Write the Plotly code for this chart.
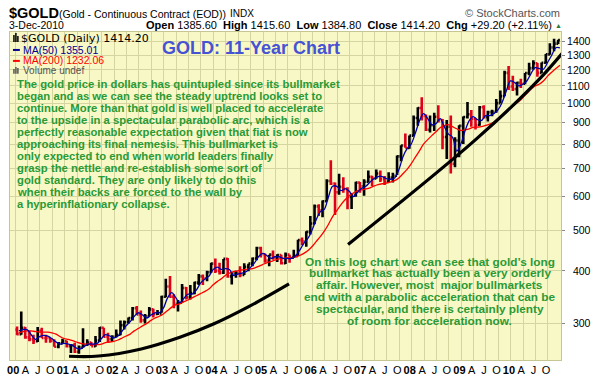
import plotly.graph_objects as go

# ---------------- data (monthly) ----------------
years = list(range(2000, 2011))
months = [f"{y}-{m:02d}-15" for y in years for m in range(1, 13)]
month_ends = [f"{y}-{m:02d}-28" for y in years for m in range(1, 13)]

opens = [290,283,293,278,275,272,288,277,277,273,264,269,
         272,265,266,257,263,267,270,265,273,293,279,275,
         279,282,297,302,309,326,315,305,312,324,316,317,
         347,367,347,334,336,364,346,354,375,388,384,397,
         416,400,396,427,388,394,395,391,409,416,428,453,
         438,423,437,429,436,417,437,430,434,473,470,495,
         518,569,557,585,654,645,615,633,626,599,604,648,
         635,651,669,663,681,660,651,666,673,748,794,783,
         838,923,975,933,865,887,929,912,832,880,718,816,
         884,928,942,919,888,979,927,953,955,1001,1040,1181,
         1096,1081,1118,1113,1180,1212,1245,1181,1248,1307,1357,1386]
highs = [295,320,294,288,282,294,293,282,277,275,271,276,
         273,268,270,266,292,275,271,280,294,293,285,281,
         290,305,305,310,328,330,322,316,328,325,323,349,
         383,389,352,341,372,366,370,377,393,392,400,418,
         428,418,427,429,396,400,410,417,416,430,456,456,
         440,437,447,438,437,442,437,449,474,480,497,540,
         575,576,588,660,732,648,680,667,632,612,651,650,
         660,692,673,696,692,672,686,684,752,795,848,838,
         936,978,1033,940,936,950,990,918,913,935,830,887,
         930,1007,964,920,986,990,960,966,1024,1072,1195,1227,
         1163,1125,1143,1180,1249,1266,1246,1250,1310,1388,1424,1416]
lows = [281,282,276,272,268,271,277,270,270,264,262,268,
        263,255,255,254,263,265,265,264,271,278,270,271,
        278,281,290,300,305,315,301,300,312,310,314,318,
        346,345,326,320,336,342,342,352,370,370,378,396,
        395,392,393,385,371,385,386,391,399,410,424,430,
        418,410,425,420,414,415,418,430,434,460,456,488,
        516,540,536,585,640,543,606,613,560,561,600,613,
        603,648,636,662,650,640,650,648,676,728,784,780,
        836,885,910,860,852,860,900,778,737,681,705,744,
        800,920,880,866,885,920,905,932,950,1000,1040,1075,
        1070,1044,1088,1110,1166,1203,1157,1180,1243,1305,1330,1384]
closes = [283,293,278,275,272,288,277,277,273,264,269,272,
          265,266,257,263,267,270,265,273,293,279,275,279,
          282,297,302,309,326,315,305,312,324,316,317,347,
          367,347,334,336,364,346,354,375,388,384,397,416,
          400,396,427,388,394,395,391,409,416,428,453,438,
          423,437,429,436,417,437,430,434,473,470,495,518,
          569,557,585,654,645,615,633,626,599,604,648,635,
          651,669,663,681,660,651,666,673,748,794,783,838,
          923,975,933,865,887,929,912,832,880,718,816,884,
          928,942,919,888,979,927,953,955,1001,1040,1181,1096,
          1081,1118,1113,1180,1212,1245,1181,1248,1307,1357,1386,1414]
ma50 = [288,290,290,282,275,279,281,280,276,271,268,269,
        268,266,262,261,265,268,268,269,276,282,280,277,
        280,288,296,303,312,318,314,309,314,318,318,326,
        345,355,346,336,344,352,352,360,374,382,388,402,
        408,403,405,403,390,393,395,398,407,417,432,440,
        435,428,432,432,428,428,428,434,448,465,478,500,
        530,553,560,600,635,635,620,627,618,600,615,628,
        635,650,662,670,670,662,660,665,695,745,780,800,
        850,910,945,920,890,895,920,880,845,830,770,800,
        860,910,930,915,910,935,935,945,965,1005,1070,1130,
        1120,1100,1110,1130,1175,1215,1210,1205,1250,1300,1355,1355]
ma200 = [285,287,288,288,287,286,286,286,285,283,279,276,
         275,273,271,269,268,268,267,267,268,270,271,272,
         274,277,280,283,288,292,296,300,305,309,312,316,
         322,328,332,334,338,341,345,349,353,357,362,370,
         377,383,390,395,398,400,402,403,404,406,410,414,
         418,421,424,427,428,430,430,431,435,440,447,457,
         470,483,497,516,538,556,574,590,603,612,620,623,
         626,630,636,641,644,646,650,655,665,680,697,718,
         745,772,800,820,838,856,875,885,890,880,870,862,
         865,870,877,878,880,886,892,903,920,935,955,975,
         993,1010,1030,1055,1080,1100,1110,1130,1160,1185,1210,1232]

# hand-drawn trend curves (date, price)
trend1_dates = ["2001-02-01","2001-09-07","2002-07-18","2003-05-04","2004-01-01","2004-09-24","2005-07-11"]
trend1_prices = [250.7, 251, 260.8, 278.4, 298.9, 329.7, 372.3]
trend2_dates = ["2006-09-19","2009-04-20","2010-07-22","2011-03-25"]
trend2_prices = [462, 822, 1135, 1400]

ytick_vals = [300,400,500,600,700,800,900,1000,1100,1200,1300,1400]
ytick_text = [("\u2007" if v < 1000 else "") + str(v) for v in ytick_vals]

xtick_vals, xtick_text = [], []
for y in years:
    for m, lab in [(1, None), (4, "A"), (7, "J"), (10, "O")]:
        xtick_vals.append(f"{y}-{m:02d}-01")
        xtick_text.append(f"<b>{str(y)[2:]}</b>" if lab is None else lab)

text1 = ["The gold price in dollars has quintupled since its bullmarket",
         "began and as we can see the steady uptrend looks set to",
         "continue. More than that gold is well placed to accelerate",
         "to the upside in a spectacular parabolic arc, which is a",
         "perfectly reasonable expectation given that fiat is now",
         "approaching its final nemesis. This bullmarket is",
         "only expected to end when world leaders finally",
         "grasp the nettle and re-establish some sort of",
         "gold standard. They are only likely to do this",
         "when their backs are forced to the wall by",
         "a hyperinflationary collapse."]
text2 = ["On this log chart we can see that gold\u2019s long",
         "bullmarket has actually been a very orderly",
         "affair. However, most  major bullmarkets",
         "end with a parabolic acceleration that can be",
         "spectacular, and there is certainly plenty",
         "of room for acceleration now."]

# ---------------- layout helpers ----------------
W, H = 598, 383
ML, MR, MT, MB = 7, 32, 32, 22
PW, PH = W - ML - MR, H - MT - MB
def px(x): return (x - ML) / PW
def py(y): return 1 - (y - MT) / PH

ARIAL = "Liberation Sans, Arial, sans-serif"
GREEN = "#2a9a36"

fig = go.Figure()
fig.add_trace(go.Ohlc(x=months, open=opens, high=highs, low=lows, close=closes,
                      increasing=dict(line=dict(color="black", width=2.6)),
                      decreasing=dict(line=dict(color="#e0001a", width=2.6)),
                      tickwidth=0.45, showlegend=False, hoverinfo="skip"))
fig.add_trace(go.Scatter(x=month_ends, y=ma200, mode="lines", line=dict(color="#ff0000", width=1.3, shape="spline"),
                         showlegend=False, hoverinfo="skip"))
fig.add_trace(go.Scatter(x=month_ends, y=ma50, mode="lines", line=dict(color="#0000a8", width=1.3, shape="spline"),
                         showlegend=False, hoverinfo="skip"))
fig.add_trace(go.Scatter(x=trend1_dates, y=trend1_prices, mode="lines", line=dict(color="black", width=3.2, shape="spline"),
                         showlegend=False, hoverinfo="skip"))
fig.add_trace(go.Scatter(x=trend2_dates, y=trend2_prices, mode="lines", line=dict(color="black", width=3.2, shape="spline"),
                         showlegend=False, hoverinfo="skip"))

ann = []
def A(x, y, text, size, color="black", anchor="left", family=ARIAL):
    ann.append(dict(x=px(x), y=py(y), xref="paper", yref="paper", text=text, showarrow=False,
                    xanchor=anchor, yanchor="middle", borderpad=0, font=dict(size=size, color=color, family=family)))

A(5, 13, "<b>$GOLD</b>", 14.5)
A(56, 13.5, "(Gold - Continuous Contract (EOD))", 10.5)
A(229, 13.5, "INDX", 10)
A(5, 25, "3-Dec-2010", 10.5)
A(558, 25, "<b>Open</b> 1385.60  <b>High</b> 1415.60  <b>Low</b> 1384.80  <b>Close</b> 1414.20  <b>Chg</b> +29.20 (+2.11%)", 11, anchor="right")
A(563, 25, "\u25b2", 7, color="#2a7a3a", anchor="center")
A(566, 12.5, "\u00a9 StockCharts.com", 11, color="#555555", anchor="right")

A(17, 38.5, "$GOLD (Daily) 1414.20", 11, family="DejaVu Sans, sans-serif")
A(19, 50, "MA(50) 1355.01", 10.5, color="#000090")
A(19, 60.5, "MA(200) 1232.06", 10.5, color="#ff0000")
A(19, 70.5, "Volume undef", 10, color="#555555")

A(252, 48, "<b>GOLD: 11-Year Chart</b>", 18, color="#4652d4", anchor="center")

for i, line in enumerate(text1):
    A(13, 84.3 + 12.07 * i, "<b>" + line + "</b>", 11.3, color=GREEN)
for i, line in enumerate(text2):
    A(433, 262.3 + 11.9 * i, "<b>" + line + "</b>", 11.8, color=GREEN, anchor="center")

shapes = [
    dict(type="line", xref="paper", yref="paper", x0=px(10), x1=px(17), y0=py(50), y1=py(50), line=dict(color="#000090", width=2)),
    dict(type="line", xref="paper", yref="paper", x0=px(10), x1=px(17), y0=py(61), y1=py(61), line=dict(color="#ff0000", width=2)),
]
for bx, top in [(11, 35), (13, 33), (15, 36)]:
    shapes.append(dict(type="line", xref="paper", yref="paper", x0=px(bx), x1=px(bx), y0=py(top), y1=py(42), line=dict(color="black", width=1.5)))
for bx, top in [(11, 69), (13, 67), (15, 68)]:
    shapes.append(dict(type="line", xref="paper", yref="paper", x0=px(bx), x1=px(bx), y0=py(top), y1=py(74), line=dict(color="#555555", width=1.5)))

GRID = "#d5d5a2"
fig.update_layout(
    width=W, height=H, margin=dict(l=ML, r=MR, t=MT, b=MB),
    paper_bgcolor="white", plot_bgcolor="#f8f8c6",
    annotations=ann, shapes=shapes, showlegend=False,
    font=dict(family=ARIAL, color="black"),
    xaxis=dict(type="date", range=["1999-11-24", "2011-01-05"], rangeslider=dict(visible=False),
               tickmode="array", tickvals=xtick_vals, ticktext=xtick_text, tickangle=0,
               tickfont=dict(size=11, family=ARIAL, color="black"), ticks="",
               showgrid=True, gridcolor=GRID, gridwidth=1, zeroline=False,
               showline=True, linecolor="#c6c692", linewidth=1, mirror=True, ticklabelshift=-2),
    yaxis=dict(type="log", range=[2.3902, 3.1694], side="right",
               tickmode="array", tickvals=ytick_vals, ticktext=ytick_text,
               tickfont=dict(size=10.5, family=ARIAL, color="black"),
               ticks="outside", ticklen=3, tickcolor="#888888",
               showgrid=True, gridcolor=GRID, gridwidth=1, zeroline=False,
               showline=True, linecolor="#c6c692", linewidth=1, mirror=True),
)

fig.write_html("out.html", config={"displayModeBar": False},
               post_script="document.body.style.margin='0px';document.body.style.overflow='hidden';")
